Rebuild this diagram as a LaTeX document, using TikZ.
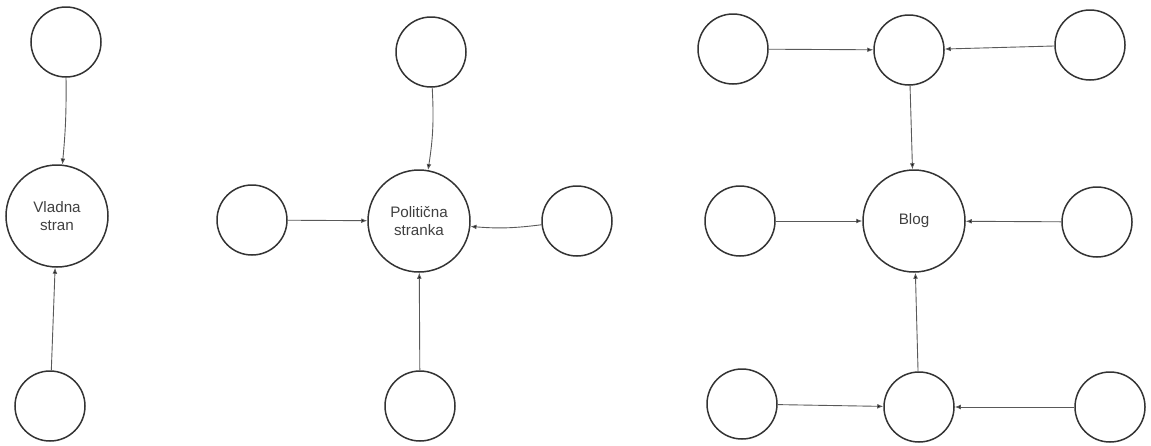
\documentclass[tikz,border=0pt]{standalone}
\usepackage{fontspec}
\setmainfont{Liberation Sans}
\usetikzlibrary{arrows.meta}
\begin{document}
\begin{tikzpicture}[x=0.5pt,y=-0.5pt,
	krog/.style={circle,draw=black!80,line width=0.75pt,minimum size=35pt,inner sep=0pt,
		font=\fontsize{7.6}{9.2}\selectfont,text=black!75,align=center},
	velik/.style={krog,minimum size=51pt},
	pu/.style={-{Latex[length=3pt,width=2.4pt]},draw=black!65,line width=0.45pt}]
	\useasboundingbox (0,0) rectangle (1151,445);
	% vladna stran
	\node[velik] (v0) at (57,216) {Vladna\\stran};
	\node[krog] (v1) at (66,42) {};
	\node[krog] (v2) at (50,406) {};
	\draw[pu] (v1) edge[bend left=3] (v0);
	\draw[pu] (v2) edge (v0);
	% politicna stranka
	\node[velik] (p0) at (419,221) {Politična\\stranka};
	\node[krog] (p1) at (431,52) {};
	\node[krog] (p2) at (252,220) {};
	\node[krog] (p3) at (577,221) {};
	\node[krog] (p4) at (420,406) {};
	\draw[pu] (p1) edge[bend left=6] (p0);
	\draw[pu] (p2) edge (p0);
	\draw[pu] (p3) edge[bend left=6] (p0);
	\draw[pu] (p4) edge (p0);
	% blog
	\node[velik] (b0) at (914,221) {Blog};
	\node[krog] (b1) at (733,49) {};
	\node[krog] (b2) at (909,50) {};
	\node[krog] (b3) at (1090,45) {};
	\node[krog] (b4) at (740,221) {};
	\node[krog] (b5) at (1097,222) {};
	\node[krog] (b6) at (742,404) {};
	\node[krog] (b7) at (919,407) {};
	\node[krog] (b8) at (1110,407) {};
	\draw[pu] (b1) edge (b2);
	\draw[pu] (b3) edge (b2);
	\draw[pu] (b2) edge (b0);
	\draw[pu] (b4) edge (b0);
	\draw[pu] (b5) edge (b0);
	\draw[pu] (b7) edge (b0);
	\draw[pu] (b6) edge (b7);
	\draw[pu] (b8) edge (b7);
\end{tikzpicture}
\end{document}
